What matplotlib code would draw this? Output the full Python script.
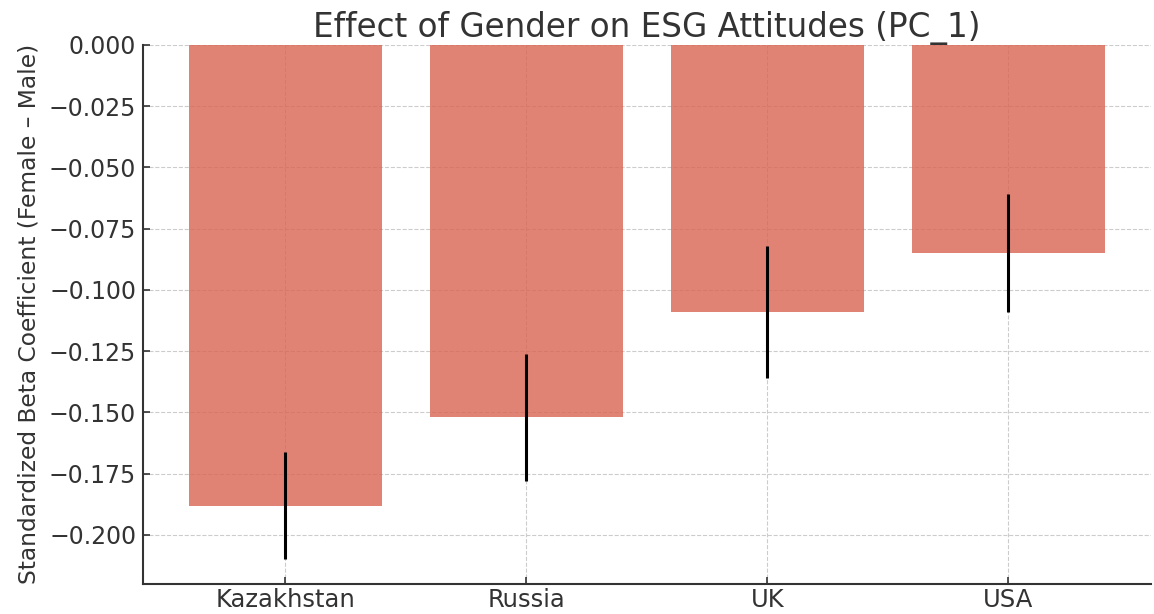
import numpy as np
import matplotlib
matplotlib.use("Agg")
import matplotlib.pyplot as plt

countries = ["Kazakhstan", "Russia", "UK", "USA"]
beta = [-0.188, -0.152, -0.109, -0.085]
ci_half = [0.022, 0.026, 0.027, 0.024]
yticks = [0.0, -0.025, -0.05, -0.075, -0.1, -0.125, -0.15, -0.175, -0.2]

plt.rcParams.update({'font.size': 17, 'text.color': '#333333',
                     'axes.labelcolor': '#333333', 'xtick.color': '#333333',
                     'ytick.color': '#333333', 'axes.edgecolor': '#333333'})

fig, ax = plt.subplots(figsize=(11.54, 6.14), dpi=100)
x = np.arange(len(countries))
ax.bar(x, beta, width=0.8, color='#d96452', alpha=0.8,
       yerr=ci_half, ecolor='black', error_kw={'elinewidth': 2.2, 'capsize': 0})

ax.set_xticks(x)
ax.set_xticklabels(countries, fontsize=17.5)
ax.set_yticks(yticks)
ax.set_yticklabels([f"{v:.3f}".replace('-', '\u2212') for v in yticks], fontsize=17)
ax.set_ylim(-0.22, 0.0)
ax.set_title("Effect of Gender on ESG Attitudes (PC_1)", fontsize=23.5, pad=5)
ax.set_ylabel("Standardized Beta Coefficient (Female \u2013 Male)", fontsize=16.8, labelpad=6)

ax.tick_params(direction='in', length=5, width=1.2, pad=5)
ax.tick_params(axis='x', pad=3)
ax.grid(True, linestyle='--', linewidth=0.8, color='#cccccc')
ax.set_axisbelow(True)
for s in ['top', 'right']:
    ax.spines[s].set_visible(False)
for s in ['left', 'bottom']:
    ax.spines[s].set_linewidth(1.5)

fig.subplots_adjust(left=0.124, right=0.997, top=0.927, bottom=0.049)
fig.savefig("out.png", dpi=100)
